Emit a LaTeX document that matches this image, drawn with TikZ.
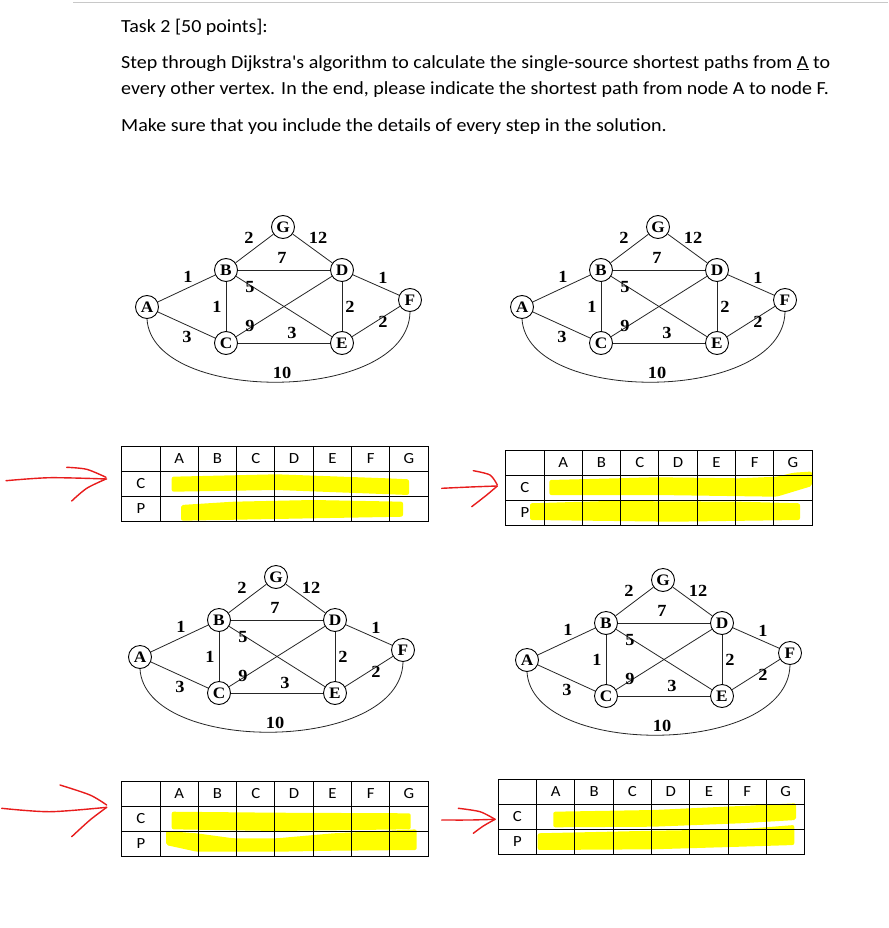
\documentclass[tikz,border=0pt]{standalone}
\usepackage{fontspec}
\setmainfont{Carlito}[Ligatures=TeXOff,FakeStretch=1.08]
\newfontfamily\timesfont{Liberation Serif}[FakeStretch=1.08]
\definecolor{hl}{RGB}{255,255,0}
\definecolor{pen}{RGB}{232,28,28}
\definecolor{rule}{RGB}{200,200,200}
\tikzset{
  vert/.style={circle,draw=black,line width=0.9pt,fill=white,minimum size=23pt,inner sep=0pt,font=\timesfont\bfseries\fontsize{16}{16}\selectfont},
  edge/.style={draw=black!85,line width=0.8pt},
  wlab/.style={inner sep=0pt,font=\timesfont\bfseries\fontsize{17}{17}\selectfont},
  txt/.style={anchor=base west,inner sep=0pt,font=\fontsize{18.5}{22}\selectfont},
  cell/.style={inner sep=0pt,font=\fontsize{15.5}{16}\selectfont},
  gridline/.style={draw=black,line width=0.9pt},
  marker/.style={fill=hl,draw=none,rounded corners=2pt},
  redpen/.style={draw=pen,line width=1.4pt,line cap=round,line join=round}
}
\newcommand{\dgraph}[3]{%
\begin{scope}[shift={(#2,#3)}]
\node[vert] (#1A) at (147,307) {A};
\node[vert] (#1B) at (226,270) {B};
\node[vert] (#1C) at (226,343) {C};
\node[vert] (#1D) at (342,270) {D};
\node[vert] (#1E) at (342,343) {E};
\node[vert] (#1F) at (410,300) {F};
\node[vert] (#1G) at (283,227) {G};
\draw[edge] (#1A) -- (#1B);
\draw[edge] (#1A) -- (#1C);
\draw[edge] (#1B) -- (#1C);
\draw[edge] (#1B) -- (#1G);
\draw[edge] (#1G) -- (#1D);
\draw[edge] (#1B) -- (#1D);
\draw[edge] (#1B) -- (#1E);
\draw[edge] (#1C) -- (#1D);
\draw[edge] (#1C) -- (#1E);
\draw[edge] (#1D) -- (#1E);
\draw[edge] (#1D) -- (#1F);
\draw[edge] (#1E) -- (#1F);
\draw[edge] (#1A.south) .. controls +(5,86) and +(-2,92) .. (#1F.south);
\node[wlab] (#1wBG) at (249,238) {2};
\node[wlab] (#1wGD) at (318,238) {12};
\node[wlab] (#1wBD) at (282,258) {7};
\node[wlab] (#1wAB) at (188,277) {1};
\node[wlab] (#1wBE) at (250,287) {5};
\node[wlab] (#1wDF) at (383,278) {1};
\node[wlab] (#1wBC) at (217,307) {1};
\node[wlab] (#1wDE) at (350,307) {2};
\node[wlab] (#1wCD) at (250,326) {9};
\node[wlab] (#1wEF) at (383,322) {2};
\node[wlab] (#1wAC) at (187,337) {3};
\node[wlab] (#1wCE) at (292,333) {3};
\node[wlab] (#1wAF) at (282,373) {10};
\end{scope}}
\newcommand{\dtable}[3]{%
\begin{scope}[shift={(#2,#3)}]
\foreach \i in {0,...,8} \draw[gridline] (\i*38.3,0) -- (\i*38.3,75);
\foreach \j in {0,...,3} \draw[gridline] (-0.45,\j*25) -- (306.85,\j*25);
\foreach \l [count=\k] in {A,B,C,D,E,F,G} \node[cell] (#1h\l) at ({(\k+0.5)*38.3},12.5) {\l};
\node[cell] (#1rC) at (19.15,37.5) {C};
\node[cell] (#1rP) at (19.15,62.5) {P};
\end{scope}}
\begin{document}
\begin{tikzpicture}[x=1pt,y=-1pt]
\useasboundingbox (0,0) rectangle (888,928);
\fill[white] (0,0) rectangle (888,928);
\draw[rule,line width=1pt] (73,2.7) -- (888,2.7);
\node[txt] (t1) at (121,32.7) {Task 2 [50 points]:};
\node[txt] (t2) at (121,68.3) {Step through Dijkstra's algorithm to calculate the single-source shortest paths from \underline{A} to};
\node[txt] (t3) at (121,95) {every other vertex. In the end, please indicate the shortest path from node A to node F.};
\node[txt] (t4) at (121,131.7) {Make sure that you include the details of every step in the solution.};
% graphs
\dgraph{a}{0}{0}
\dgraph{b}{375}{0}
\dgraph{c}{-7}{350}
\dgraph{d}{380}{353}
% yellow marker strokes
\fill[marker] (171.7,476.7) -- (276.7,474.3) -- (386.7,478.3) -- (409,479.3) -- (409,495) -- (276.7,490) -- (171.7,491.7) -- cycle;
\fill[marker] (181,505) -- (233,501.7) -- (313,500) -- (403,501.7) -- (403,516.7) -- (313,518.3) -- (181,520.7) -- cycle;
\fill[marker] (549.3,480) -- (656.7,477.3) -- (740,478.3) -- (776.7,476.7) -- (793.3,472.7) -- (812,471.5) -- (812,486) -- (776.7,496.7) -- (656.7,495) -- (549.3,495) -- cycle;
\fill[marker] (530,503.3) -- (606.7,501) -- (740,501.7) -- (800,503.3) -- (800,520) -- (673.3,521.7) -- (530,520) -- cycle;
\fill[marker] (171.7,811.7) -- (276.7,812.7) -- (410.7,813.3) -- (410.7,829.3) -- (276.7,831) -- (171.7,829.3) -- cycle;
\fill[marker] (166,831) -- (196.7,833.3) -- (233.3,838.3) -- (276.7,838.3) -- (333.3,833.3) -- (416.7,829.3) -- (416.7,850) -- (333.3,850.7) -- (276.7,851.7) -- (196.7,851.7) -- (166,845) -- cycle;
\fill[marker] (553.3,811.7) -- (653.3,810) -- (740,806) -- (796,803.3) -- (796,820) -- (740,823.3) -- (653.3,826.7) -- (553.3,827.3) -- cycle;
\fill[marker] (537.7,833.3) -- (653.3,830.7) -- (740,829.3) -- (794.3,825) -- (794.3,845) -- (740,846.7) -- (653.3,849.3) -- (537.7,850) -- cycle;
% tables
\dtable{p}{121.7}{446}
\dtable{q}{505.7}{450}
\dtable{r}{121.7}{781.5}
\dtable{s}{498.3}{779}
% red arrows
\draw[redpen] plot[smooth] coordinates {(6,480.7) (50,477.7) (106.7,479)};
\draw[redpen] plot[smooth] coordinates {(66.7,467.3) (86.7,469.3) (106,477.3)};
\draw[redpen] plot[smooth] coordinates {(106,479) (86.7,488.3) (71.7,501)};
\draw[redpen] plot[smooth] coordinates {(441.7,488.3) (470,487) (496.7,486)};
\draw[redpen] plot[smooth] coordinates {(473.3,470.7) (490,475) (497.3,485)};
\draw[redpen] plot[smooth] coordinates {(497.3,486) (486.7,495) (471.7,506.7)};
\draw[redpen] plot[smooth] coordinates {(1.7,808.3) (50,811.7) (106.7,807.3)};
\draw[redpen] plot[smooth] coordinates {(60,785) (90,795) (106.7,805)};
\draw[redpen] plot[smooth] coordinates {(106.7,807.3) (90,820) (71.7,836.7)};
\draw[redpen] plot[smooth] coordinates {(441.7,820) (470,820) (495,819.3)};
\draw[redpen] plot[smooth] coordinates {(458.3,808.3) (480,811.7) (495,819.3)};
\draw[redpen] plot[smooth] coordinates {(495,819.3) (483.3,826) (473.3,833.3)};
\end{tikzpicture}
\end{document}
